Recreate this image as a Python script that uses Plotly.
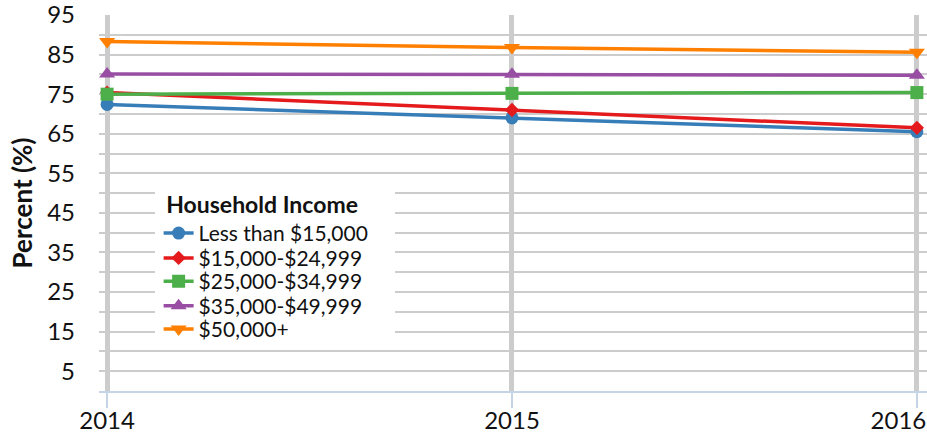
import plotly.graph_objects as go

years = [2014, 2015, 2016]
year_labels = ["2014", "2015", "2016&nbsp;&nbsp;&nbsp;&nbsp;&nbsp;&nbsp;"]
series_names = ["Less than $15,000", "$15,000-$24,999", "$25,000-$34,999", "$35,000-$49,999", "$50,000+"]
less_15k = [72.4, 69.0, 65.5]
r15_25k = [75.4, 71.0, 66.5]
r25_35k = [75.0, 75.2, 75.4]
r35_50k = [80.1, 80.0, 79.8]
over_50k = [88.3, 86.8, 85.6]
y_tick_vals = list(range(0, 100, 5))
y_tick_text = [str(v) if v % 10 == 5 else "" for v in y_tick_vals]

colors = ["#377eb8", "#e41a1c", "#4daf4a", "#984ea3", "#ff7f00"]
symbols = ["circle", "diamond", "square", "triangle-up", "triangle-down"]
sizes = [13, 11, 13, 14, 14]
values = [less_15k, r15_25k, r25_35k, r35_50k, over_50k]
legend_ids = ["legend", "legend2", "legend3", "legend4", "legend5"]

fig = go.Figure()
for name, vals, c, s, sz, lg in zip(series_names, values, colors, symbols, sizes, legend_ids):
    fig.add_trace(go.Scatter(
        x=years, y=vals, name=name, mode="lines+markers",
        line=dict(color=c, width=3.5),
        marker=dict(color=c, symbol=s, size=sz),
        legend=lg, showlegend=True,
    ))

legend_common = dict(xanchor="left", x=0.072, bgcolor="rgba(0,0,0,0)",
                     font=dict(size=21), itemwidth=30)
item_y = [None, 0.353, 0.291, 0.226, 0.164]

fig.update_layout(
    width=927, height=436,
    showlegend=True,
    margin=dict(l=99, r=0, t=15, b=45),
    paper_bgcolor="white", plot_bgcolor="white",
    font=dict(family="Lato, 'Open Sans', sans-serif", size=24, color="#111111"),
    legend=dict(title=dict(text="<b> Household Income</b>", font=dict(size=23)),
                y=0.553, yanchor="top", visible=True, **legend_common),
    legend2=dict(y=item_y[1], yanchor="middle", **legend_common),
    legend3=dict(y=item_y[2], yanchor="middle", **legend_common),
    legend4=dict(y=item_y[3], yanchor="middle", **legend_common),
    legend5=dict(y=item_y[4], yanchor="middle", **legend_common),
    shapes=[dict(type="rect", xref="paper", yref="paper", x0=0.0676, x1=0.3575,
                 y0=0.130, y1=0.553, fillcolor="white", line=dict(width=0), layer="above")],
    xaxis=dict(
        range=[2013.98, 2016.025],
        tickvals=years, ticktext=year_labels,
        showgrid=True, gridcolor="#cccccc", gridwidth=5,
        zeroline=False,
        showline=True, linecolor="#c5d5e5", linewidth=1.5,
        ticks="outside", ticklen=15, tickcolor="#c5d5e5", tickwidth=1.5,
        tickfont=dict(size=24), ticklabeloverflow="allow",
        ticklabelstandoff=-8,
        automargin=False,
    ),
    yaxis=dict(
        range=[0, 95],
        tickvals=y_tick_vals, ticktext=y_tick_text,
        showgrid=True, gridcolor="#cccccc", gridwidth=2,
        zeroline=False, showline=False,
        ticklabelstandoff=23, ticklabeloverflow="allow",
        title=dict(text="<b>Percent (%)</b>", font=dict(size=26), standoff=7),
        tickfont=dict(size=24),
        automargin=False,
    ),
)

fig.write_html("out.html", post_script="document.body.style.margin='0';",
               config={"displayModeBar": False})
